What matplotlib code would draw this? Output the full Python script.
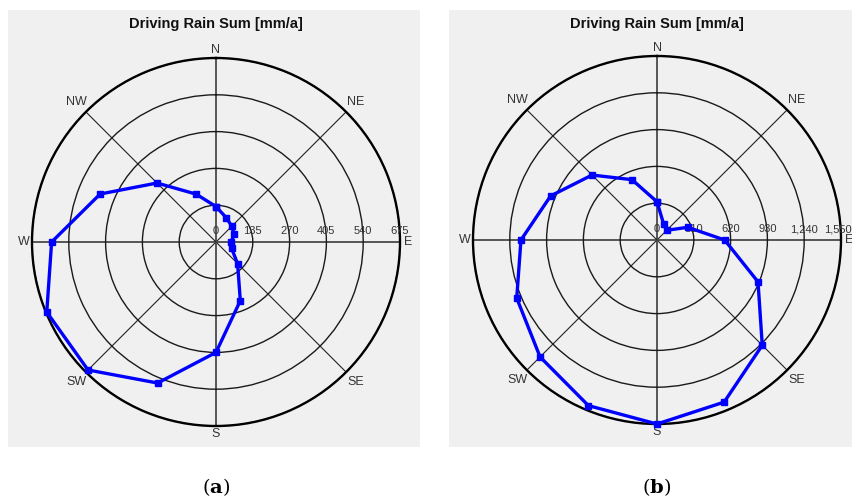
import numpy as np
import matplotlib.pyplot as plt
from matplotlib.patches import Rectangle

# 16 wind directions, clockwise from north
directions = ['N', 'NNE', 'NE', 'ENE', 'E', 'ESE', 'SE', 'SSE',
              'S', 'SSW', 'SW', 'WSW', 'W', 'WNW', 'NW', 'NNW']
compass_labels = ['N', 'NE', 'E', 'SE', 'S', 'SW', 'W', 'NW']

# panel (a)
rain_a = [130, 97, 82, 72, 55, 62, 112, 233, 405, 560, 664, 672, 603, 460, 306, 190]
rings_a = [135, 270, 405, 540, 675]
ring_labels_a = ['0', '135', '270', '405', '540', '675']

# panel (b)
rain_b = [322, 146, 115, 280, 570, 921, 1254, 1478, 1550, 1510, 1393, 1279, 1146, 970, 774, 550]
rings_b = [310, 620, 930, 1240, 1550]
ring_labels_b = ['0', '310', '620', '930', '1,240', '1,550']

W, H = 853, 499
bg = '#f0f0f0'

plt.rcParams['mathtext.fontset'] = 'dejavuserif'
fig = plt.figure(figsize=(W / 100, H / 100), dpi=100)

def rose(cx, cy, rad, values, rings, ring_labels, panel_box, caption):
    # grey panel background
    x0, y0, x1, y1 = panel_box
    fig.patches.append(Rectangle((x0 / W, 1 - y1 / H), (x1 - x0) / W, (y1 - y0) / H,
                                 transform=fig.transFigure, facecolor=bg,
                                 edgecolor='none', zorder=-5))
    ax = fig.add_axes([(cx - rad) / W, (H - cy - rad) / H, 2 * rad / W, 2 * rad / H],
                      projection='polar')
    ax.set_facecolor(bg)
    ax.set_theta_zero_location('N')
    ax.set_theta_direction(-1)
    ax.set_ylim(0, rings[-1])

    ax.set_thetagrids(np.arange(0, 360, 45), [''] * 8)
    ax.set_rgrids(rings, [''] * len(rings))
    ax.grid(True)
    for i, gl in enumerate(ax.xaxis.get_gridlines()):
        if i % 2 == 0:
            gl.set_color('#555555')
            gl.set_linewidth(1.4)
        else:
            gl.set_color('#222222')
            gl.set_linewidth(0.8)
    for gl in ax.yaxis.get_gridlines():
        gl.set_color('#1a1a1a')
        gl.set_linewidth(1.0)
    ax.spines['polar'].set_linewidth(1.7)
    ax.spines['polar'].set_color('black')
    ax.tick_params(length=0)

    # compass labels
    for k, lab in enumerate(compass_labels):
        th = np.deg2rad(k * 45)
        f = 1.045 if k % 2 == 0 else 1.075
        ax.text(th, rings[-1] * f, lab, ha='center', va='center', fontsize=9,
                color='#333333', family='Liberation Sans', clip_on=False)

    # radial value labels along the east axis
    rvals = [0] + rings
    for j, (r, lab) in enumerate(zip(rvals, ring_labels)):
        last = j == len(rvals) - 1 and cx + rad + 14 > W
        if last:
            # keep the outermost label inside the picture
            fig.text((W - 1) / W, 1 - (cy - 5) / H, lab, ha='right', va='bottom',
                     fontsize=8, color='#333333', family='Liberation Sans')
            continue
        ax.annotate(lab, (np.pi / 2, r), xytext=(0, 4), textcoords='offset points',
                    ha='center', va='bottom', fontsize=8, color='#333333',
                    family='Liberation Sans', annotation_clip=False)

    theta = np.deg2rad(np.arange(len(values)) * 22.5)
    th = np.append(theta, theta[0])
    v = np.append(values, values[0])
    ax.plot(th, v, color='#0000ff', lw=2.4, marker='s', markersize=4.5,
            clip_on=False, zorder=5)

    fig.text(cx / W, 1 - 24 / H, 'Driving Rain Sum [mm/a]', ha='center', va='center',
             fontsize=10.5, fontweight='bold', family='Liberation Sans', color='#111111')
    fig.text(cx / W, 1 - 487 / H, r'$(\mathbf{%s})$' % caption, ha='center', va='center',
             fontsize=14)

rose(216, 242, 184, rain_a, rings_a, ring_labels_a, (8, 10, 420, 447), 'a')
rose(657, 240, 184, rain_b, rings_b, ring_labels_b, (449, 10, 853, 447), 'b')

fig.savefig('out.png', dpi=100, facecolor='white')
